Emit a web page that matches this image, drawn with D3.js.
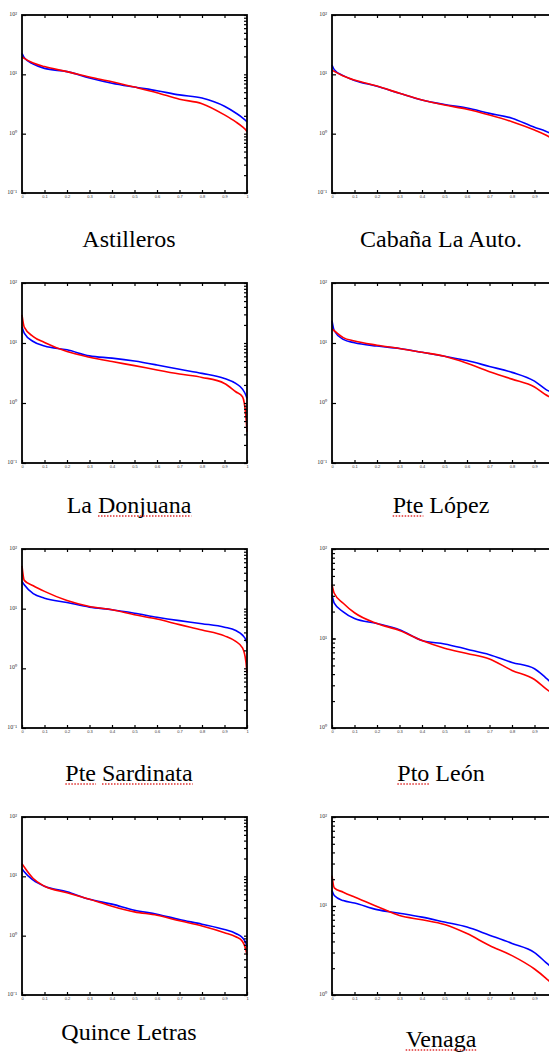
<!DOCTYPE html>
<html>
<head>
<meta charset="utf-8">
<script src="https://cdn.jsdelivr.net/npm/d3@7"></script>
<style>
  body { margin: 0; background: #fff; }
  svg { display: block; }
  text.title { font-family: "Times New Roman", "Liberation Serif", Times, "DejaVu Serif", serif; }
</style>
</head>
<body>
<svg id="chart"></svg>
<script>
// Probability of exceedance (x axis), shared by every curve
const prob = [0, 0.01, 0.05, 0.1, 0.2, 0.3, 0.4, 0.5, 0.6, 0.7, 0.8, 0.9, 0.95, 0.98, 0.995, 1];

const stations = ["Astilleros", "Cabaña La Auto.", "La Donjuana", "Pte López",
                  "Pte Sardinata", "Pto León", "Quince Letras", "Venaga"];

// blue curves
const astillerosAzul = [22.6, 19.1, 14.9, 12.6, 11.1, 8.7, 7.1, 6.1, 5.3, 4.5, 4.0, 2.9, 2.23, 1.85, 1.65, 1.58];
const cabanaAzul     = [14.4, 12.0, 9.5, 7.9, 6.3, 4.8, 3.7, 3.1, 2.7, 2.2, 1.82, 1.28, 1.1, 0.97, 0.9, 0.87];
const donjuanaAzul   = [18.4, 14.6, 10.6, 8.9, 7.7, 6.1, 5.6, 5.0, 4.3, 3.64, 3.12, 2.57, 2.12, 1.7, 1.35, 1.19];
const lopezAzul      = [23.7, 16.0, 11.5, 10.1, 8.9, 8.1, 7.0, 6.0, 5.1, 4.06, 3.24, 2.31, 1.69, 1.45, 1.3, 1.25];
const sardinataAzul  = [28.6, 25.1, 17.8, 15.0, 12.7, 10.6, 9.6, 8.4, 7.2, 6.3, 5.6, 4.9, 4.3, 3.6, 3.0, 2.64];
const leonAzul       = [30.8, 24.8, 19.9, 16.7, 14.7, 12.5, 9.5, 8.7, 7.6, 6.6, 5.4, 4.6, 3.64, 3.15, 3.0, 2.92];
const quinceAzul     = [13.5, 11.9, 8.6, 6.8, 5.5, 4.1, 3.4, 2.69, 2.3, 1.87, 1.56, 1.27, 1.09, 0.92, 0.75, 0.65];
const venagaAzul     = [14.9, 13.1, 11.5, 10.8, 9.1, 8.3, 7.5, 6.6, 5.8, 4.7, 3.8, 3.0, 2.33, 2.0, 1.84, 1.8];

// red curves
const astillerosRojo = [19.8, 18.6, 15.5, 13.5, 11.1, 9.0, 7.5, 6.1, 4.9, 3.8, 3.2, 2.07, 1.58, 1.3, 1.15, 1.08];
const cabanaRojo     = [11.8, 11.2, 9.4, 8.0, 6.35, 4.8, 3.7, 3.04, 2.58, 2.06, 1.59, 1.15, 0.95, 0.82, 0.75, 0.71];
const donjuanaRojo   = [29.5, 18.4, 12.8, 10.2, 7.2, 5.8, 4.9, 4.2, 3.55, 3.04, 2.67, 2.12, 1.54, 1.27, 0.6, 0.33];
const lopezRojo      = [17.1, 16.0, 12.3, 10.8, 9.2, 8.1, 7.0, 6.0, 4.6, 3.33, 2.5, 1.85, 1.37, 1.18, 1.05, 1.0];
const sardinataRojo  = [52, 29.8, 24.2, 19.5, 13.7, 10.9, 9.6, 7.9, 6.7, 5.4, 4.4, 3.5, 2.82, 2.2, 1.3, 0.83];
const leonRojo       = [40, 32, 24.8, 19.4, 14.7, 12.3, 9.5, 7.8, 6.8, 5.9, 4.4, 3.48, 2.75, 2.4, 2.15, 2.06];
const quinceRojo     = [16.4, 14.4, 9.2, 6.8, 5.3, 4.1, 3.14, 2.52, 2.21, 1.78, 1.45, 1.12, 0.96, 0.8, 0.58, 0.47];
const venagaRojo     = [22, 16.0, 14.3, 12.6, 9.9, 7.8, 7.0, 6.2, 4.9, 3.6, 2.77, 1.96, 1.55, 1.32, 1.18, 1.14];

// lower end of each log axis (upper end is 100)
const yLow = [0.1, 0.1, 0.1, 0.1, 0.1, 1, 0.1, 1];
const xTicks = [0, 0.1, 0.2, 0.3, 0.4, 0.5, 0.6, 0.7, 0.8, 0.9, 1];
// words with the red spell-check underline
const flagged = [[], [], ["Donjuana"], ["Pte"], ["Pte", "Sardinata"], ["Pto"], [], ["Venaga"]];

const azul = [astillerosAzul, cabanaAzul, donjuanaAzul, lopezAzul, sardinataAzul, leonAzul, quinceAzul, venagaAzul];
const rojo = [astillerosRojo, cabanaRojo, donjuanaRojo, lopezRojo, sardinataRojo, leonRojo, quinceRojo, venagaRojo];

// layout
const W = 549, H = 1053;
const colX = [22, 332], colMid = [129, 441];
const rowY = [15, 283, 549, 817], rowH = [178, 180, 179, 178];
const titleY = [247, 247, 513, 513, 781, 781, 1040, 1047];
const panelW = 225;

const svg = d3.select("#chart").attr("width", W).attr("height", H);

const sup = {"-": "\u207B", "0": "\u2070", "1": "\u00B9", "2": "\u00B2"};
const powLabel = d => "10" + String(Math.round(Math.log10(d))).split("").map(c => sup[c]).join("");

stations.forEach((name, i) => {
    const col = i % 2, row = Math.floor(i / 2);
    const h = rowH[row];
    const g = svg.append("g").attr("transform", `translate(${colX[col]},${rowY[row]})`);

    const x = d3.scaleLinear().domain([0, 1]).range([0, panelW]);
    const y = d3.scaleLog().domain([yLow[i], 100]).range([h, 0]);
    const decadeTicks = y.ticks().filter(d => Math.abs(Math.log10(d) - Math.round(Math.log10(d))) < 1e-6);
    // the right column runs past the page edge, so its last labels are not shown
    const shownTicks = xTicks.filter(d => colX[col] + x(d) < W - 4);

    const line = d3.line()
        .x((d, j) => x(prob[j]))
        .y(d => y(d))
        .curve(d3.curveMonotoneX);

    g.append("path").datum(azul[i])
        .attr("fill", "none").attr("stroke", "#0000ff").attr("stroke-width", 1.6)
        .attr("d", line);
    g.append("path").datum(rojo[i])
        .attr("fill", "none").attr("stroke", "#ff0000").attr("stroke-width", 1.6)
        .attr("d", line);

    // axes, all ticks pointing inward
    const bottom = g.append("g").attr("transform", `translate(0,${h})`)
        .call(d3.axisBottom(x).tickValues(shownTicks).tickSizeInner(-3).tickSizeOuter(0).tickPadding(2)
            .tickFormat(d => d === 0 || d === 1 ? d3.format("d")(d) : d3.format(".1f")(d)));
    g.append("g")
        .call(d3.axisTop(x).tickValues(xTicks.slice(1, -1)).tickSizeInner(-3).tickSizeOuter(0).tickFormat(""));
    const left = g.append("g")
        .call(d3.axisLeft(y).tickValues(decadeTicks).tickSizeInner(-4).tickSizeOuter(0).tickPadding(5)
            .tickFormat(powLabel));
    if (yLow[i] >= 1) {
        g.append("g")
            .call(d3.axisLeft(y).tickValues(y.ticks()).tickSizeInner(-3).tickSizeOuter(0).tickFormat(""));
    }
    g.append("g").attr("transform", `translate(${panelW},0)`)
        .call(d3.axisRight(y).tickValues(y.ticks()).tickSizeInner(-3).tickSizeOuter(0).tickFormat(""));

    g.selectAll(".domain").remove();
    g.selectAll(".tick line").attr("stroke", "#000").attr("stroke-width", 1.2);
    bottom.selectAll("text").attr("font-size", 4).attr("fill", "#333").attr("font-family", "Liberation Sans");
    left.selectAll("text").attr("font-size", 6).attr("fill", "#333").attr("dy", "0.1em")
        .attr("font-family", "Liberation Serif");

    g.append("rect")
        .attr("width", panelW).attr("height", h)
        .attr("fill", "none").attr("stroke", "#000").attr("stroke-width", 1.8);

    // station name
    const t = svg.append("text")
        .attr("class", "title")
        .attr("x", colMid[col]).attr("y", titleY[i])
        .attr("text-anchor", "middle")
        .attr("font-size", 24).attr("fill", "#000")
        .text(name);
    const node = t.node();
    const start = colMid[col] - node.getComputedTextLength() / 2;
    flagged[i].forEach(word => {
        const k = name.indexOf(word);
        const x0 = start + (k > 0 ? node.getSubStringLength(0, k) : 0);
        const len = node.getSubStringLength(k, word.length);
        svg.append("line")
            .attr("x1", x0).attr("x2", x0 + len)
            .attr("y1", titleY[i] + 3).attr("y2", titleY[i] + 3)
            .attr("stroke", "#e03030").attr("stroke-width", 1.4)
            .attr("stroke-dasharray", "1.5,1.5");
    });
});
</script>
</body>
</html>
